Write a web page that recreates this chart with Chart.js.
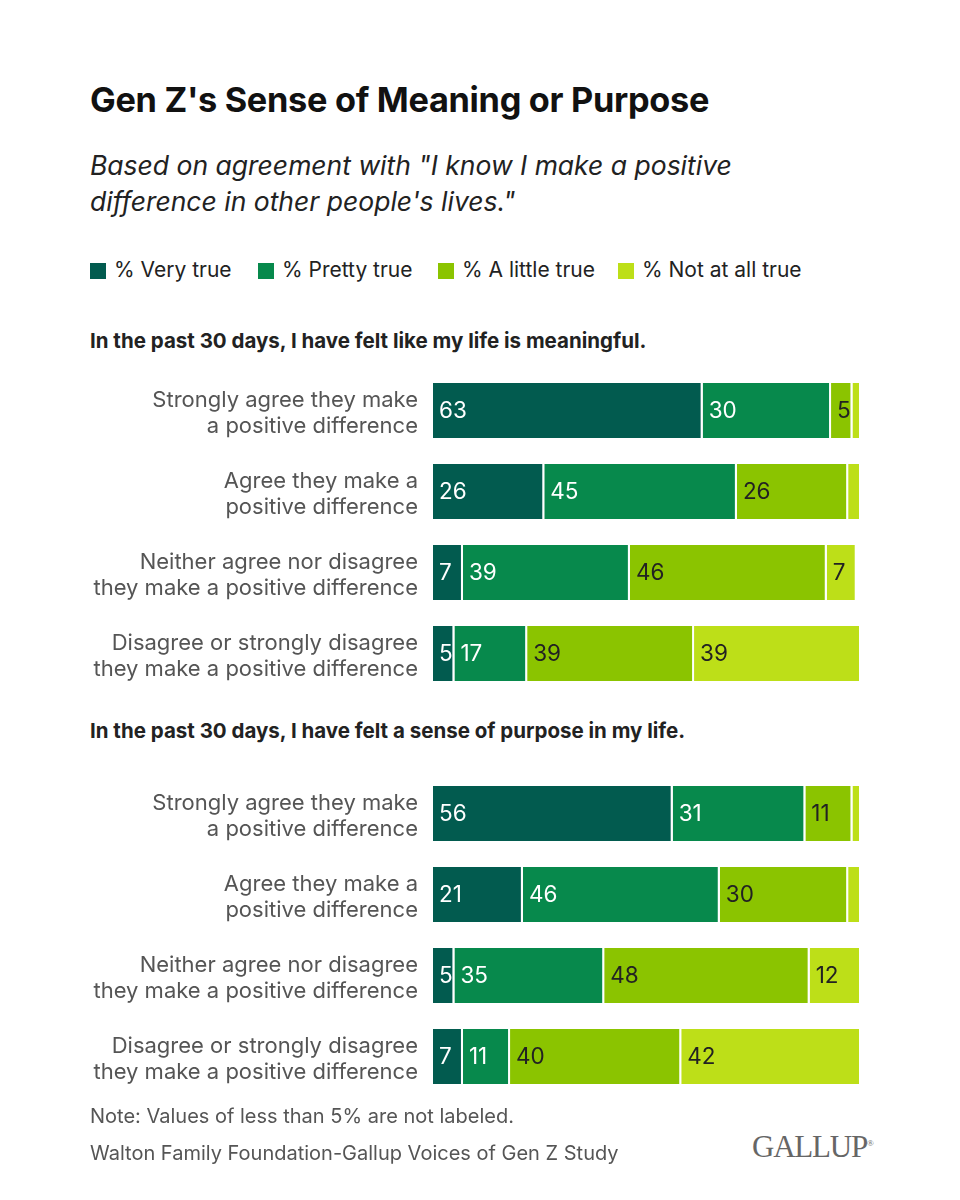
<!DOCTYPE html>
<html>
<head>
<meta charset="utf-8">
<script src="https://cdn.jsdelivr.net/npm/chart.js@4"></script>
<style>
  body { margin: 0; background: #fff; font-family: Inter, "Noto Sans", sans-serif; }
  #page { position: relative; width: 960px; height: 1200px; overflow: hidden; }
  .abs { position: absolute; white-space: nowrap; }
  #title { left: 90px; top: 79px; font-size: 34.3px; font-weight: 700; color: #111; letter-spacing: -0.3px; }
  #subtitle { left: 90px; top: 147px; font-size: 26.5px; font-style: italic; color: #222; line-height: 36px; }
  .legend { top: 257px; font-size: 21px; color: #222; }
  .legend i { display: inline-block; width: 16px; height: 16px; vertical-align: -2px; margin-right: 8px; }
  .heading { left: 90px; font-size: 20.5px; font-weight: 700; color: #222; }
  .panel { position: absolute; left: 80px; width: 800px; height: 344px; }
  .foot { left: 90px; font-size: 20px; color: #555; }
  #logo { left: 752px; top: 1129px; font-family: "Liberation Serif", "DejaVu Serif", serif; font-size: 31px; color: #666; letter-spacing: -1.2px; }
</style>
</head>
<body>
<div id="page">
  <div class="abs" id="title">Gen Z's Sense of Meaning or Purpose</div>
  <div class="abs" id="subtitle">Based on agreement with "I know I make a positive<br>difference in other people's lives."</div>
  <div class="abs legend" style="left:90px"><i style="background:#025b4f"></i>% Very true</div>
  <div class="abs legend" style="left:258px"><i style="background:#07894c"></i>% Pretty true</div>
  <div class="abs legend" style="left:438px"><i style="background:#8bc400"></i>% A little true</div>
  <div class="abs legend" style="left:618px"><i style="background:#bddf18"></i>% Not at all true</div>

  <div class="abs heading" style="top:328px">In the past 30 days, I have felt like my life is meaningful.</div>
  <div class="panel" style="top:360px"><canvas id="meaning"></canvas></div>

  <div class="abs heading" style="top:718px">In the past 30 days, I have felt a sense of purpose in my life.</div>
  <div class="panel" style="top:763px"><canvas id="purpose"></canvas></div>

  <div class="abs foot" style="top:1104px">Note: Values of less than 5% are not labeled.</div>
  <div class="abs foot" style="top:1141px">Walton Family Foundation-Gallup Voices of Gen Z Study</div>
  <div class="abs" id="logo">GALLUP<sup style="font-size:9px">&reg;</sup></div>
</div>

<script>
var categories = [
	['Strongly agree they make', 'a positive difference'],
	['Agree they make a', 'positive difference'],
	['Neither agree nor disagree', 'they make a positive difference'],
	['Disagree or strongly disagree', 'they make a positive difference']
];
var seriesNames = ['% Very true', '% Pretty true', '% A little true', '% Not at all true'];
var seriesColors = ['#025b4f', '#07894c', '#8bc400', '#bddf18'];
var labelColors = ['#ffffff', '#ffffff', '#222222', '#222222'];

// life is meaningful
var meaningVery = [63, 26, 7, 5];
var meaningPretty = [30, 45, 39, 17];
var meaningLittle = [5, 26, 46, 39];
var meaningNot = [2, 3, 7, 39];

// sense of purpose
var purposeVery = [56, 21, 5, 7];
var purposePretty = [31, 46, 35, 11];
var purposeLittle = [11, 30, 48, 40];
var purposeNot = [2, 3, 12, 42];

var FONT = 'Inter, "Noto Sans", sans-serif';

// values under 5 are left unlabeled
var segmentLabels = {
	id: 'segmentLabels',
	afterDatasetsDraw: function (chart) {
		var ctx = chart.ctx;
		ctx.save();
		ctx.font = '22.5px ' + FONT;
		ctx.textBaseline = 'middle';
		ctx.textAlign = 'left';
		chart.data.datasets.forEach(function (ds, i) {
			chart.getDatasetMeta(i).data.forEach(function (bar, j) {
				var v = ds.data[j];
				if (v < 5) return;
				ctx.fillStyle = labelColors[i];
				ctx.fillText(String(v), bar.base + 6, bar.y + 1);
			});
		});
		ctx.restore();
	}
};

function makeChart(id, series) {
	var datasets = series.map(function (vals, i) {
		return {
			label: seriesNames[i],
			data: vals,
			backgroundColor: seriesColors[i],
			borderColor: '#ffffff',
			borderWidth: { top: 0, bottom: 0, left: 0, right: 2 },
			borderSkipped: false,
			categoryPercentage: 1,
			barPercentage: 0.68
		};
	});
	var ctx = document.getElementById(id).getContext('2d');
	return new Chart(ctx, {
		type: 'bar',
		data: { labels: categories, datasets: datasets },
		options: {
			indexAxis: 'y',
			responsive: true,
			maintainAspectRatio: false,
			animation: false,
			layout: { padding: { top: 10, bottom: 10, right: 19, left: 0 } },
			plugins: {
				legend: { display: false },
				tooltip: { enabled: false }
			},
			scales: {
				x: { stacked: true, min: 0, max: 100, display: false },
				y: {
					stacked: true,
					grid: { display: false, drawTicks: false },
					border: { display: false },
					ticks: {
						color: '#555555',
						padding: 15,
						labelOffset: 3,
						font: { family: FONT, size: 22, lineHeight: 1.18 }
					},
					afterFit: function (scale) {
						scale.width = 353;
						scale.paddingTop = 0;
						scale.paddingBottom = 0;
					}
				}
			}
		},
		plugins: [segmentLabels]
	});
}

window.onload = function () {
	makeChart('meaning', [meaningVery, meaningPretty, meaningLittle, meaningNot]);
	makeChart('purpose', [purposeVery, purposePretty, purposeLittle, purposeNot]);
};
</script>
</body>
</html>
